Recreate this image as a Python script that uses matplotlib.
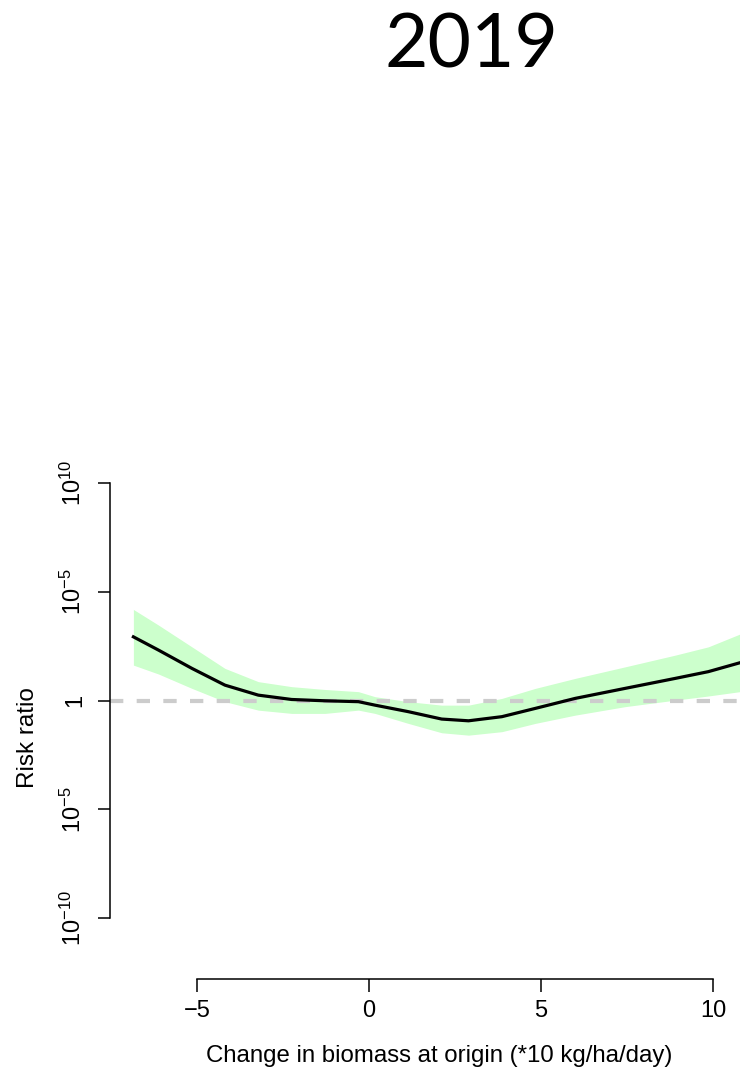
import numpy as np
import matplotlib.pyplot as plt
from matplotlib.ticker import FixedLocator

plt.rcParams['font.family'] = ['Liberation Sans', 'DejaVu Sans']
plt.rcParams['mathtext.fontset'] = 'custom'
plt.rcParams['mathtext.rm'] = 'Liberation Sans'
plt.rcParams['mathtext.it'] = 'Liberation Sans'

# smooth term: change in biomass vs log10 risk ratio, with CI band
biomass = [-6.85, -6.12, -5.15, -4.19, -3.22, -2.25, -1.28, -0.31, 0.17,
           1.14, 2.11, 2.89, 3.86, 4.83, 5.99, 7.44, 8.9, 9.86, 10.78]
log_rr = [2.93, 2.32, 1.48, 0.71, 0.25, 0.05, -0.01, -0.05, -0.21,
          -0.51, -0.85, -0.93, -0.74, -0.36, 0.10, 0.56, 1.02, 1.33, 1.74]
log_hi = [4.19, 3.47, 2.47, 1.48, 0.87, 0.64, 0.51, 0.41, 0.18,
          -0.05, -0.21, -0.21, 0.10, 0.56, 1.02, 1.55, 2.09, 2.47, 3.06]
log_lo = [1.63, 1.22, 0.56, -0.05, -0.44, -0.59, -0.59, -0.44, -0.59,
          -1.05, -1.48, -1.59, -1.43, -1.05, -0.67, -0.28, 0.02, 0.21, 0.41]

xticks = [-5, 0, 5, 10]
yticks = [1e-10, 1e-5, 1, 1e5, 1e10]
ylabels = [r'$10^{-10}$', r'$10^{-5}$', '1', r'$10^{-5}$', r'$10^{10}$']

W, H = 740, 1071
fig = plt.figure(figsize=(W / 100, H / 100), dpi=100)
ax = fig.add_axes([110 / W, (H - 979) / H, 630 / W, (979 - 470) / H])

x = np.array(biomass)
ax.fill_between(x, 10 ** np.array(log_lo), 10 ** np.array(log_hi),
                color='#ccffcc', lw=0)
ax.axhline(1, color='#cccccc', lw=3, ls=(0, (3.2, 3.2)))
ax.plot(x, 10 ** np.array(log_rr), color='black', lw=2.3,
        solid_joinstyle='round')

ax.set_yscale('log')
ax.set_xlim(-7.53, 10.78)
ax.set_ylim(10 ** -12.8, 10 ** 10.6)
ax.yaxis.set_major_locator(FixedLocator(yticks))
ax.yaxis.set_minor_locator(FixedLocator([]))
ax.set_yticks(yticks)
ax.set_yticklabels(ylabels, rotation=90, va='center')
ax.set_xticks(xticks)

for side in ['top', 'right']:
    ax.spines[side].set_visible(False)
ax.spines['left'].set_bounds(1e-10, 1e10)
ax.spines['bottom'].set_bounds(-5, 10)
for side in ['left', 'bottom']:
    ax.spines[side].set_linewidth(1.1)
ax.tick_params(axis='both', length=9, width=1.1, labelsize=17, pad=8)
ax.tick_params(axis='x', pad=6)

fig.text(28 / W, 1 - 738 / H, 'Risk ratio', rotation=90, fontsize=17.5,
         ha='center', va='center')
fig.text(439 / W, 1 - 1056 / H, 'Change in biomass at origin (*10 kg/ha/day)',
         fontsize=17.3, ha='center', va='center')
fig.text(472 / W, 1 - 46 / H, '2019', fontsize=54, family='Lato',
         ha='center', va='center')

fig.savefig('out.png', dpi=100)
